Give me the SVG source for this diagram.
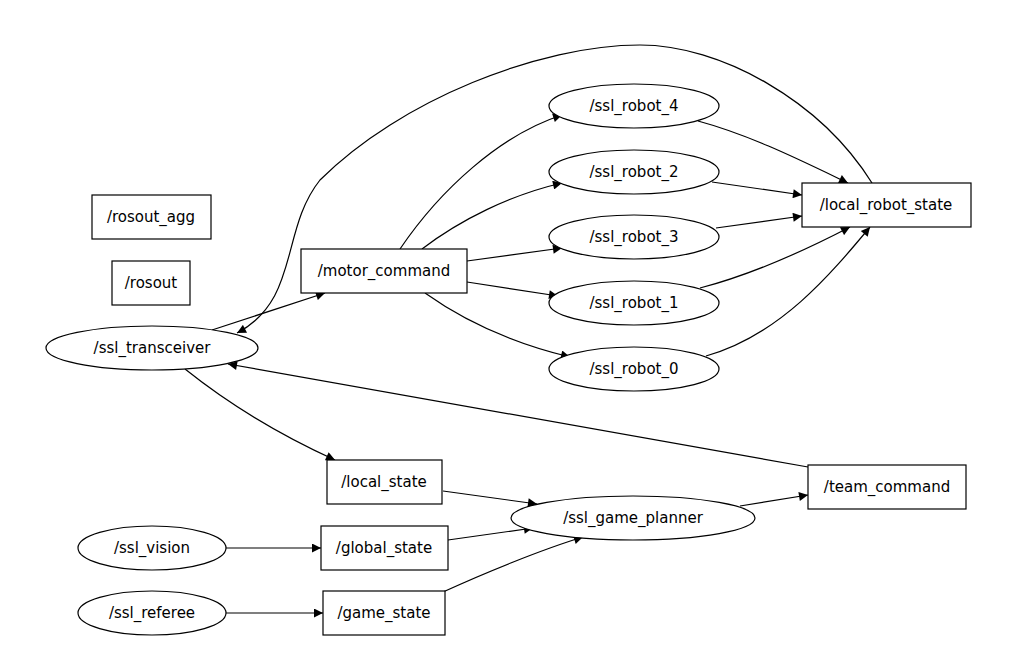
<svg xmlns="http://www.w3.org/2000/svg" width="1014" height="666" viewBox="0 0 1014 666">
<style>
.n rect,.n ellipse{fill:#fff;stroke:#000;stroke-width:1.2}
.n text{font-family:"DejaVu Sans",sans-serif;font-size:15px;text-anchor:middle;dominant-baseline:central;fill:#000}
#edges path{fill:none;stroke:#000;stroke-width:1.2;marker-end:url(#a)}
</style>
<defs><marker id="a" viewBox="0 0 10 10" refX="10" refY="5" markerWidth="12" markerHeight="9" orient="auto" markerUnits="userSpaceOnUse"><path d="M0,0L10,5L0,10z" fill="#000"/></marker></defs>
<rect width="1014" height="666" fill="#fff"/>
<g id="edges">
<path d="M212,330 L325,293"/>
<path d="M872,183 C820,100 720,45 640,45 C540,45 400,100 320,180 C280,230 300,300 237,333"/>
<path d="M400,249 C440,190 500,135 562,115"/>
<path d="M422,249 C460,220 510,195 562,183"/>
<path d="M467,261 L562,248"/>
<path d="M467,282 L558,296"/>
<path d="M425,293 C470,325 520,345 570,357"/>
<path d="M698,121 C750,135 800,160 848,183"/>
<path d="M712,182 L802,195"/>
<path d="M716,228 L802,216"/>
<path d="M700,288 C750,275 800,253 850,227"/>
<path d="M706,356 C780,335 830,275 870,227"/>
<path d="M808,467 L228,364"/>
<path d="M185,369 C230,405 280,435 335,460"/>
<path d="M443,491 L537,504"/>
<path d="M448,540 L533,528"/>
<path d="M443,592 C480,575 540,550 583,537"/>
<path d="M740,506 L808,495"/>
<path d="M226,548 L321,548"/>
<path d="M226,613 L323,613"/>
</g>
<g id="rosout_agg" class="n"><rect x="92" y="195" width="119" height="44"/><text x="151" y="217">/rosout_agg</text></g>
<g id="rosout" class="n"><rect x="112" y="261" width="78" height="44"/><text x="151" y="283">/rosout</text></g>
<g id="ssl_transceiver" class="n"><ellipse cx="152" cy="348" rx="106" ry="22"/><text x="152" y="348">/ssl_transceiver</text></g>
<g id="motor_command" class="n"><rect x="301" y="249" width="166" height="44"/><text x="384" y="271">/motor_command</text></g>
<g id="ssl_robot_4" class="n"><ellipse cx="634" cy="106" rx="85" ry="22"/><text x="634" y="106">/ssl_robot_4</text></g>
<g id="ssl_robot_2" class="n"><ellipse cx="634" cy="172" rx="85" ry="22"/><text x="634" y="172">/ssl_robot_2</text></g>
<g id="ssl_robot_3" class="n"><ellipse cx="634" cy="237" rx="85" ry="22"/><text x="634" y="237">/ssl_robot_3</text></g>
<g id="ssl_robot_1" class="n"><ellipse cx="634" cy="303" rx="85" ry="22"/><text x="634" y="303">/ssl_robot_1</text></g>
<g id="ssl_robot_0" class="n"><ellipse cx="634" cy="369" rx="85" ry="22"/><text x="634" y="369">/ssl_robot_0</text></g>
<g id="local_robot_state" class="n"><rect x="802" y="183" width="169" height="44"/><text x="886" y="205">/local_robot_state</text></g>
<g id="local_state" class="n"><rect x="327" y="460" width="115" height="44"/><text x="384" y="482">/local_state</text></g>
<g id="ssl_game_planner" class="n"><ellipse cx="633" cy="518" rx="122" ry="22"/><text x="633" y="518">/ssl_game_planner</text></g>
<g id="team_command" class="n"><rect x="808" y="465" width="158" height="44"/><text x="887" y="487">/team_command</text></g>
<g id="ssl_vision" class="n"><ellipse cx="152" cy="548" rx="74" ry="22"/><text x="152" y="548">/ssl_vision</text></g>
<g id="global_state" class="n"><rect x="321" y="526" width="127" height="44"/><text x="384" y="548">/global_state</text></g>
<g id="ssl_referee" class="n"><ellipse cx="152" cy="613" rx="74" ry="22"/><text x="152" y="613">/ssl_referee</text></g>
<g id="game_state" class="n"><rect x="323" y="591" width="122" height="44"/><text x="384" y="613">/game_state</text></g>
</svg>
